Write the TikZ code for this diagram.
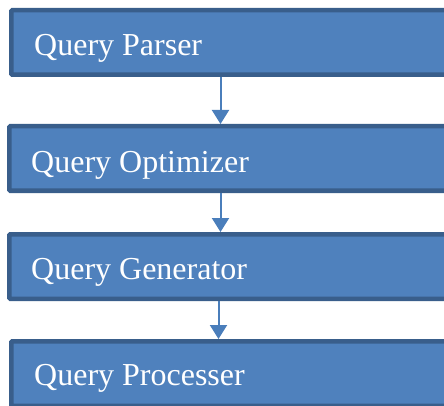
\documentclass[tikz,border=0pt]{standalone}
\usepackage{fontspec}
\setmainfont{Liberation Serif}
\usetikzlibrary{arrows.meta}
\definecolor{boxfill}{RGB}{79,129,189}
\definecolor{boxline}{RGB}{57,94,139}
\definecolor{arrcol}{RGB}{74,126,187}
\begin{document}
\begin{tikzpicture}[x=1pt,y=-1pt,
  stagebox/.style={draw=boxline, fill=boxfill, line width=4.5pt, rounded corners=1pt,
    anchor=north west, minimum width=460pt, minimum height=64.5pt, inner sep=0pt},
  lbl/.style={text=white, anchor=base west, inner sep=0pt, font=\fontsize{32}{38}\selectfont},
  arr/.style={draw=arrcol, line width=2pt, -{Triangle[width=17pt,length=14pt]}}]
\useasboundingbox (0,0) rectangle (444,406);
\clip (0,0) rectangle (444,406);
\node[stagebox] (b1) at (9,8) {};
\node[stagebox] (b2) at (7,124) {};
\node[stagebox] (b3) at (7,232) {};
\node[stagebox] (b4) at (9,339) {};
\node[lbl] (t1) at (34,56) {Query Parser};
\node[lbl] (t2) at (31,172) {Query Optimizer};
\node[lbl] (t3) at (31,279) {Query Generator};
\node[lbl] (t4) at (34,385) {Query Processer};
\coordinate (x1) at (220.5,0);
\coordinate (x3) at (218.5,0);
\draw[arr] (x1 |- b1.south) -- (x1 |- b2.north);
\draw[arr] (x1 |- b2.south) -- (x1 |- b3.north);
\draw[arr] (x3 |- b3.south) -- (x3 |- b4.north);
\end{tikzpicture}
\end{document}
